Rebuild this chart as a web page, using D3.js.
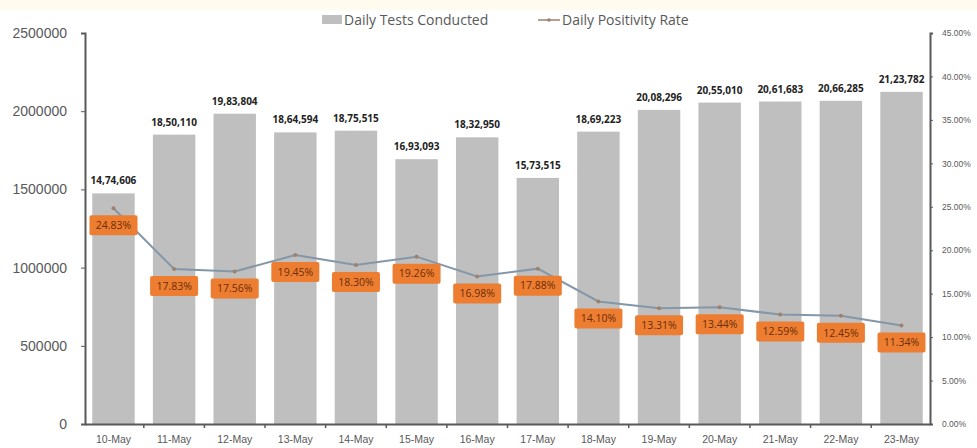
<!DOCTYPE html>
<html lang="en">
<head>
<meta charset="utf-8">
<title>Daily tests and positivity</title>
<script src="https://cdnjs.cloudflare.com/ajax/libs/d3/7.8.5/d3.min.js"></script>
<style>
  body { margin: 0; background: #fff; font-family: 'Open Sans', 'Liberation Sans', sans-serif; }
  .axis path, .axis line { stroke: #595959; }
  .axis text { fill: #595959; }
</style>
</head>
<body>
<div id="chart"></div>
<script>
// data
var dates = ["10-May","11-May","12-May","13-May","14-May","15-May","16-May","17-May","18-May","19-May","20-May","21-May","22-May","23-May"];
var tests = [1474606,1850110,1983804,1864594,1875515,1693093,1832950,1573515,1869223,2008296,2055010,2061683,2066285,2123782];
var testLabels = ["14,74,606","18,50,110","19,83,804","18,64,594","18,75,515","16,93,093","18,32,950","15,73,515","18,69,223","20,08,296","20,55,010","20,61,683","20,66,285","21,23,782"];
var positivity = [24.83,17.83,17.56,19.45,18.30,19.26,16.98,17.88,14.10,13.31,13.44,12.59,12.45,11.34];
var leftTicks = [0,500000,1000000,1500000,2000000,2500000];
var rightTicks = [0,5,10,15,20,25,30,35,40,45];

var width = 977, height = 448;
var margin = {top: 33, right: 47, bottom: 24, left: 85};

var svg = d3.select("#chart").append("svg")
    .attr("width", width)
    .attr("height", height);

svg.append("rect").attr("width", width).attr("height", 10).attr("fill", "#fffcef");

var x = d3.scaleBand().domain(dates)
    .range([margin.left, width - margin.right])
    .paddingInner(0.3).paddingOuter(0.12);
var y = d3.scaleLinear().domain([0, 2500000]).range([height - margin.bottom, margin.top]);
var y2 = d3.scaleLinear().domain([0, 45]).range([height - margin.bottom, margin.top]);

// bars
svg.selectAll(".bar").data(tests).enter().append("rect")
    .attr("class", "bar")
    .attr("x", function(d, i) { return x(dates[i]); })
    .attr("y", function(d) { return y(d); })
    .attr("width", x.bandwidth())
    .attr("height", function(d) { return y(0) - y(d); })
    .attr("fill", "#bfbfbf");

svg.selectAll(".barlabel").data(tests).enter().append("text")
    .attr("x", function(d, i) { return x(dates[i]) + x.bandwidth() / 2; })
    .attr("y", function(d) { return y(d) - 9; })
    .attr("text-anchor", "middle")
    .attr("font-size", 10)
    .attr("font-weight", "bold")
    .attr("fill", "#222")
    .text(function(d, i) { return testLabels[i]; });

// axes
var yAxis = svg.append("g").attr("class", "axis")
    .attr("transform", "translate(" + margin.left + ",0)")
    .call(d3.axisLeft(y).tickValues(leftTicks).tickFormat(d3.format("d")).tickSize(4).tickPadding(14));
yAxis.selectAll("text").attr("font-size", 14);
yAxis.select(".domain").attr("stroke-width", 2);

var y2Axis = svg.append("g").attr("class", "axis")
    .attr("transform", "translate(" + (width - margin.right) + ",0)")
    .call(d3.axisRight(y2).tickValues(rightTicks).tickFormat(function(d) { return d.toFixed(2) + "%"; }).tickSize(3).tickPadding(9));
y2Axis.selectAll("text").attr("font-size", 8.5).attr("fill", "#8a8a8a");
y2Axis.select(".domain").attr("stroke-width", 2);

var xAxis = svg.append("g").attr("class", "axis")
    .attr("transform", "translate(0," + y(0) + ")")
    .call(d3.axisBottom(x).tickSize(0).tickPadding(12));
xAxis.selectAll("text").attr("font-size", 10.5).attr("fill", "#404040");
xAxis.select(".domain").attr("stroke-width", 2);
// ticks between categories
var step = x.step();
xAxis.selectAll(".sep").data(dates.slice(1)).enter().append("line")
    .attr("x1", function(d) { return x(d) - step * x.paddingInner() / 2; })
    .attr("x2", function(d) { return x(d) - step * x.paddingInner() / 2; })
    .attr("y1", 0).attr("y2", 4)
    .attr("stroke", "#595959").attr("stroke-width", 1.5);

// positivity line
var line = d3.line()
    .x(function(d, i) { return x(dates[i]) + x.bandwidth() / 2; })
    .y(function(d) { return y2(d); });
svg.append("path").datum(positivity)
    .attr("d", line)
    .attr("fill", "none")
    .attr("stroke", "#8497a8")
    .attr("stroke-width", 2);
svg.selectAll(".pt").data(positivity).enter().append("circle")
    .attr("cx", function(d, i) { return x(dates[i]) + x.bandwidth() / 2; })
    .attr("cy", function(d) { return y2(d); })
    .attr("r", 2)
    .attr("fill", "#a0806a");

// orange labels
var lab = svg.selectAll(".plabel").data(positivity).enter().append("g")
    .attr("transform", function(d, i) { return "translate(" + (x(dates[i]) + x.bandwidth() / 2) + "," + (y2(d) + 17) + ")"; });
lab.append("rect")
    .attr("x", -24).attr("y", -10).attr("width", 48).attr("height", 20)
    .attr("rx", 2)
    .attr("fill", "#ed7d31");
lab.append("text")
    .attr("text-anchor", "middle")
    .attr("dy", "0.35em")
    .attr("font-size", 10.5)
    .attr("fill", "#6b2e08")
    .text(function(d) { return d.toFixed(2) + "%"; });

// legend
var lg = svg.append("g").attr("transform", "translate(322,20)");
lg.append("rect").attr("x", 0).attr("y", -5).attr("width", 20).attr("height", 9).attr("fill", "#bfbfbf");
lg.append("text").attr("x", 22).attr("dy", "0.35em").attr("font-size", 14).attr("fill", "#595959").text("Daily Tests Conducted");
lg.append("line").attr("x1", 216).attr("x2", 238).attr("y1", 0).attr("y2", 0).attr("stroke", "#a0806a").attr("stroke-width", 1.5);
lg.append("circle").attr("cx", 227).attr("cy", 0).attr("r", 1.8).attr("fill", "#a0806a");
lg.append("text").attr("x", 240).attr("dy", "0.35em").attr("font-size", 14).attr("fill", "#595959").text("Daily Positivity Rate");
</script>
</body>
</html>
